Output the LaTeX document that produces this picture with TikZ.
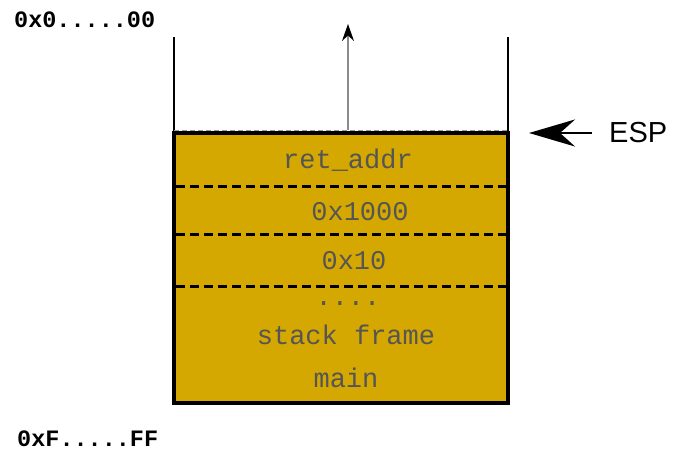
\documentclass[tikz,border=0pt]{standalone}
\usepackage{fontspec}
\setmainfont{Liberation Sans}
\newfontfamily\monofont{Liberation Mono}
\usetikzlibrary{arrows.meta}
\definecolor{stackgold}{RGB}{212,168,0}
\definecolor{slotgray}{RGB}{85,85,85}
\begin{document}
\begin{tikzpicture}[x=1pt,y=-1pt,
  wall/.style={line width=2pt,black},
  slotline/.style={line width=3pt,dash pattern=on 9pt off 5pt},
  slottext/.style={font=\monofont\fontsize{27}{27}\selectfont,text=slotgray,inner sep=0},
  addrtext/.style={font=\monofont\bfseries\fontsize{23.5}{23.5}\selectfont,text=black,inner sep=0,anchor=west},
  growth/.style={line width=1.3pt,draw=black!45,-{Stealth[length=17pt,width=12pt,black]}},
  esparrow/.style={line width=2.5pt,-{Stealth[length=46pt,width=27pt,inset=15pt]}}]
\useasboundingbox (0,0) rectangle (675,452);

% stack body
\node (stack) [draw=black,line width=4.5pt,fill=stackgold,minimum width=334pt,minimum height=270pt,inner sep=0,outer sep=0] at (341,268) {};

% open walls above the stack
\coordinate (lwtop) at (174,37);
\coordinate (rwtop) at (508,37);
\draw[wall] (stack.north west) -- (lwtop);
\draw[wall] (stack.north east) -- (rwtop);
\draw[black!40,line width=1pt,dash pattern=on 5pt off 3pt] ([yshift=3pt]stack.north west) -- ([yshift=3pt]stack.north east);

% slot separators
\draw[slotline] (176,186) -- (506,186);
\draw[slotline] (176,234) -- (506,234);
\draw[slotline] (176,286) -- (506,286);

% slot contents
\node[slottext] (ret) at (348,160) {ret\_addr};
\node[slottext] (arg1) at (360,212) {0x1000};
\node[slottext] (arg2) at (354,261) {0x10};
\node[slottext] (dots) at (348,304) {....};
\node[slottext] (frame) at (346,335) {stack frame};
\node[slottext] (mainf) at (346,378) {main};

% growth direction
\coordinate (growtip) at (348,24);
\draw[growth] ([xshift=7pt,yshift=3pt]stack.north) -- (growtip);

% stack pointer
\node (esp) [font=\fontsize{29}{29}\selectfont,inner sep=0,anchor=west] at (609,133) {ESP};
\coordinate (espend) at (529,133);
\draw[esparrow] ([xshift=-17pt]esp.west) -- (espend);

% address range
\node[addrtext] (low) at (14,20) {0x0.....00};
\node[addrtext] (high) at (17,439) {0xF.....FF};
\end{tikzpicture}
\end{document}
